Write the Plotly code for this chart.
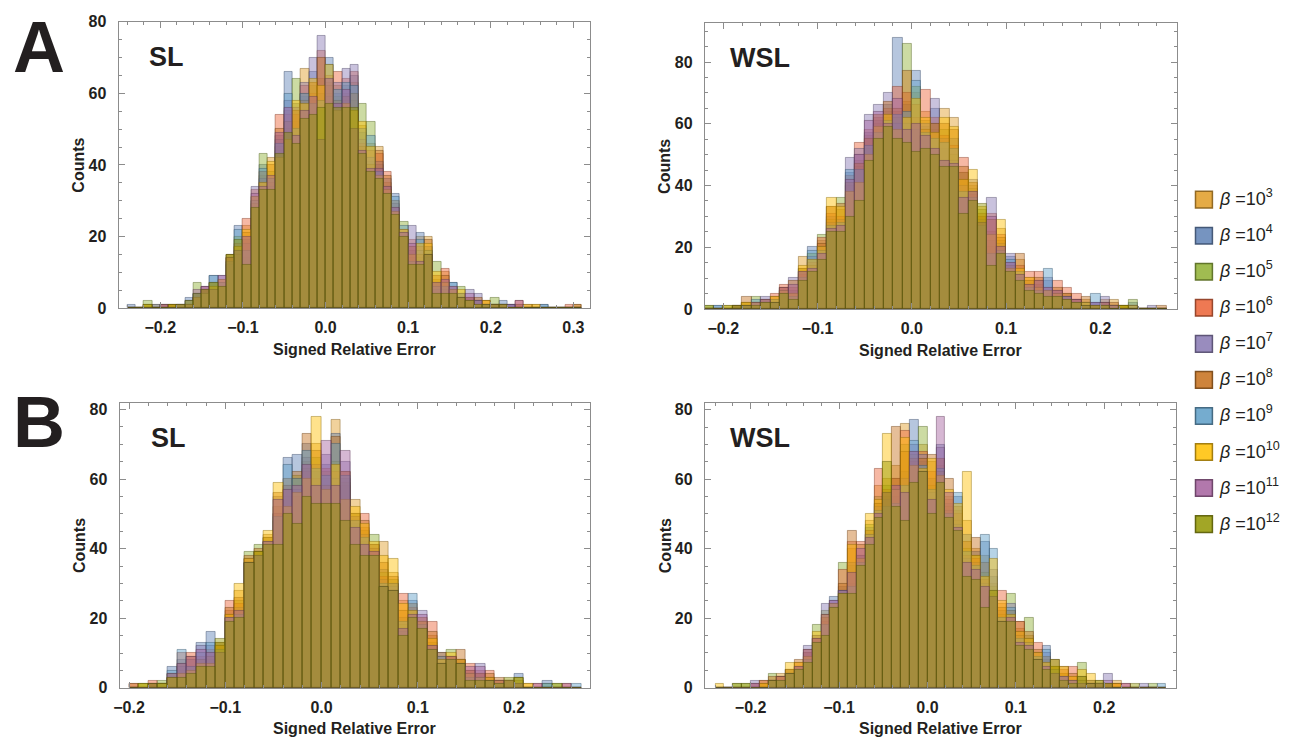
import plotly.graph_objects as go

# The page keeps the browser's default 8px body margin, so the figure is
# made 16px smaller than the 1308x752 window and every position is given
# in window pixels, shifted by that margin.
PAGE_W, PAGE_H, MARGIN = 1308, 752, 8
FW, FH = PAGE_W - 2 * MARGIN, PAGE_H - 2 * MARGIN
BIN_W = 0.01

# ---- bin grids (left edges of 0.01-wide bins) ----
asl_left = [round(-0.24 + BIN_W * i, 2) for i in range(55)]
awsl_left = [round(-0.22 + BIN_W * i, 2) for i in range(49)]
bsl_left = [round(-0.20 + BIN_W * i, 2) for i in range(47)]
bwsl_left = [round(-0.24 + BIN_W * i, 2) for i in range(51)]

beta_exps = [3, 4, 5, 6, 7, 8, 9, 10, 11, 12]
series_colors = ["#E19C24", "#5E81B5", "#8FB032", "#EB6235", "#8778B3",
                 "#C56E1A", "#5D9EC7", "#FFBF00", "#A5609D", "#929600"]

# ---- Panel A, SL ----
asl_b3 = [0,0,1,0,1,0,1,1,3,4, 6,7,14,17,23,30,37,42,45,55, 52,67,62,64,63,62,60,63,51,46, 45,35,28,21,15,20,20,8,10,5, 4,2,2,2,1,1,0,1,0,1, 0,0,0,0,1]
asl_b4 = [1,0,0,0,0,1,0,3,4,5, 9,7,13,23,19,31,40,36,48,66, 57,59,66,60,70,60,62,65,49,41, 40,33,32,20,14,21,17,7,6,7, 3,3,2,1,1,2,1,0,0,0, 1,0,0,0,0]
asl_b5 = [0,0,2,1,0,0,1,1,7,5, 7,6,15,20,14,28,43,38,44,50, 64,60,58,55,60,59,58,58,57,52, 36,34,26,24,16,14,16,13,7,4, 6,2,1,1,3,1,0,0,0,0, 0,0,0,0,0]
asl_b6 = [0,0,0,0,0,1,0,2,3,6, 5,8,14,18,25,33,35,35,54,54, 54,62,60,72,65,66,64,66,46,44, 43,38,27,22,19,17,15,6,11,6, 3,3,2,1,1,0,1,2,0,0, 0,0,0,1,0]
asl_b7 = [0,0,0,1,1,0,1,1,4,6, 6,9,12,16,18,34,36,34,47,58, 56,63,70,76,59,63,67,68,47,42, 41,36,29,21,23,16,14,5,5,4, 4,5,4,1,1,1,1,0,0,0, 0,0,0,0,0]
asl_b8 = [0,0,0,0,1,1,0,1,3,5, 7,6,15,15,21,29,38,40,50,52, 55,58,63,70,62,58,59,60,45,40, 44,37,30,20,17,15,19,9,9,5, 3,3,3,2,1,1,0,1,1,0, 0,0,0,0,1]
asl_b9 = [0,0,0,0,0,0,1,2,4,4, 9,7,13,22,16,30,39,36,46,60, 50,60,57,58,68,61,63,62,50,48, 38,32,31,23,13,19,16,6,6,7, 4,2,2,1,1,1,1,0,0,0, 1,0,0,0,0]
asl_b10 = [0,0,1,0,0,1,1,1,3,4, 6,8,14,17,22,31,35,41,42,47, 58,57,64,62,68,55,57,55,52,45, 37,33,27,22,15,18,18,10,7,5, 5,2,1,2,1,1,0,0,1,1, 0,0,0,0,0]
asl_b11 = [0,0,0,0,1,0,1,1,5,6, 5,9,14,16,20,32,34,37,49,56, 48,55,59,47,64,57,61,50,44,39, 39,34,28,21,18,13,15,7,8,6, 3,4,2,1,1,1,1,2,0,0, 0,0,0,0,0]
asl_b12 = [0,0,1,0,0,1,1,2,4,5, 7,6,15,19,12,28,33,33,43,49, 46,53,54,56,57,56,56,56,43,38, 36,32,26,20,12,12,15,4,4,4, 3,2,1,1,1,1,0,0,0,0, 0,0,0,0,0]

# ---- Panel A, WSL ----
awsl_b3 = [0,0,0,1,2,2,2,3,7,5, 17,16,22,33,32,40,48,56,60,64, 64,67,70,64,58,65,62,42,40,30, 25,26,14,16,10,8,6,5,4,3, 3,1,3,3,1,1,0,0,0]
awsl_b4 = [0,1,0,0,1,2,2,2,6,6, 12,20,18,30,28,44,50,57,61,66, 88,66,77,59,65,52,55,44,38,28, 22,20,17,11,9,7,9,6,3,2, 1,2,1,1,0,2,0,0,0]
awsl_b5 = [1,0,0,1,2,4,3,3,5,4, 13,18,24,29,36,37,46,52,58,62, 62,86,72,61,60,58,50,44,39,32, 20,22,13,11,8,9,5,4,5,2, 2,1,2,1,1,3,0,0,0]
awsl_b6 = [0,0,0,0,1,1,2,5,8,7, 11,15,23,31,30,43,54,58,62,65, 72,70,62,71,62,56,53,49,37,30, 31,24,15,14,12,12,7,9,7,5, 2,1,1,1,0,0,0,0,0]
awsl_b7 = [0,0,0,1,1,2,4,2,6,10, 12,17,20,28,29,49,52,63,66,70, 60,60,58,60,68,55,48,40,42,29, 36,21,18,10,8,6,10,5,3,3, 1,2,4,1,0,1,0,1,0]
awsl_b8 = [0,0,0,1,4,2,3,4,7,9, 13,14,21,33,34,41,47,55,63,67, 65,77,66,58,60,60,58,46,41,31, 29,23,14,18,9,10,6,7,5,3, 4,1,2,2,1,0,0,0,1]
awsl_b9 = [0,1,0,0,1,3,2,3,5,4, 10,19,19,27,28,45,45,53,57,61, 63,64,74,57,55,54,52,38,36,27, 18,19,16,12,7,6,13,4,4,2, 2,5,1,1,0,1,0,0,0]
awsl_b10 = [0,0,1,0,2,2,2,4,6,5, 14,16,20,36,33,38,41,50,59,63, 58,62,68,62,57,62,59,42,45,33, 24,29,13,13,10,7,6,5,3,2, 2,1,1,1,1,1,0,0,0]
awsl_b11 = [0,0,0,0,1,2,3,2,7,8, 12,13,18,26,27,42,50,61,64,60, 68,58,60,56,52,48,47,36,38,28, 30,20,15,11,8,9,7,6,4,3, 1,2,2,1,0,0,0,0,0]
awsl_b12 = [1,0,1,1,1,1,2,2,5,3, 9,12,16,25,25,30,35,48,55,59, 55,54,51,52,50,46,46,31,35,34, 14,18,12,9,6,5,4,4,3,2, 1,1,1,0,1,0,0,0,0]

# ---- Panel B, SL ----
bsl_b3 = [0,0,1,1,3,5,6,8,10,12, 22,28,37,39,44,52,55,60,65,70, 60,77,58,54,46,40,42,33,25,22, 18,15,8,9,8,5,4,3,2,2, 1,1,0,0,0,0,0]
bsl_b4 = [0,0,0,1,6,8,5,13,16,11, 20,22,36,38,42,50,66,67,70,62, 64,73,60,47,42,41,34,30,20,25, 19,12,10,9,8,4,3,2,1,2, 4,0,0,2,0,0,0]
bsl_b5 = [0,1,1,2,4,4,4,7,8,13, 21,25,39,41,43,48,57,61,63,66, 62,65,59,50,45,44,33,31,18,21, 18,13,8,11,7,3,3,2,2,2, 2,0,0,1,1,0,0]
bsl_b6 = [1,0,2,0,3,10,10,9,11,12, 25,24,36,38,42,50,58,55,62,60, 63,62,62,48,50,39,32,30,27,23, 19,19,9,9,8,7,5,5,2,2, 1,0,1,0,0,1,0]
bsl_b7 = [0,0,0,1,3,6,8,12,12,11, 19,23,37,39,41,55,58,57,66,64, 67,60,65,49,44,40,31,29,16,20, 22,12,8,8,8,4,7,3,1,2, 1,0,0,0,0,0,0]
bsl_b8 = [1,0,1,1,4,7,9,8,9,13, 23,26,38,40,43,56,60,62,73,68, 58,72,62,50,48,41,36,32,22,24, 20,16,10,9,11,5,4,4,3,2, 2,0,0,0,0,0,0]
bsl_b9 = [0,0,0,1,5,11,6,10,13,11, 20,21,36,38,42,49,64,60,68,63, 61,70,61,48,43,38,30,30,19,27, 18,11,9,8,7,3,3,2,1,2, 3,0,0,1,0,0,1]
bsl_b10 = [0,1,0,1,3,4,5,7,7,12, 21,30,37,39,45,59,52,56,60,78, 57,64,54,52,47,42,38,37,24,22, 19,14,8,10,8,4,3,3,2,2, 3,1,0,0,0,0,0]
bsl_b11 = [0,0,1,0,4,7,9,11,10,10, 20,22,36,38,42,54,57,58,64,58, 71,58,68,46,41,39,29,28,17,21, 21,12,7,9,7,6,6,2,2,2, 1,0,1,0,0,1,0]
bsl_b12 = [0,1,1,1,3,3,4,6,6,14, 19,20,36,39,41,41,50,47,55,53, 53,53,48,41,38,38,29,28,15,20, 17,11,7,8,7,2,2,2,1,3, 3,0,0,0,1,0,0]

# ---- Panel B, WSL ----
bwsl_b3 = [0,0,0,0,1,1,2,4,5,6, 9,15,20,24,28,40,38,48,58,60, 64,76,68,70,65,64,55,51,48,40, 38,30,24,22,17,15,10,8,6,4, 3,3,2,2,1,2,0,0,0,0, 0]
bwsl_b4 = [0,0,0,0,0,0,1,2,4,6, 10,14,21,26,29,30,36,46,53,55, 55,62,77,65,60,70,53,55,44,39, 42,32,22,21,16,14,9,12,5,3, 2,2,1,1,0,0,0,0,0,0, 0]
bwsl_b5 = [0,0,1,1,0,1,4,3,5,5, 8,18,22,24,36,35,37,47,55,58, 60,70,67,75,58,66,52,48,40,38, 33,29,21,27,15,20,9,7,6,4, 2,7,2,1,1,0,0,0,0,1, 0]
bwsl_b6 = [0,0,0,0,1,2,2,3,4,7, 10,14,19,24,34,42,42,44,63,57, 60,74,65,68,62,66,54,50,38,37, 31,27,28,20,19,13,13,7,5,5, 6,2,1,1,1,1,1,0,0,0, 0]
bwsl_b7 = [0,0,0,0,2,0,2,2,5,6, 12,15,24,25,28,36,38,44,52,54, 57,60,70,67,56,69,51,47,37,36, 30,34,20,24,15,12,10,10,4,3, 2,3,2,1,4,0,0,0,1,0, 0]
bwsl_b8 = [0,0,0,0,0,2,3,3,5,8, 11,14,20,23,30,45,41,45,53,56, 75,68,66,66,67,62,60,52,42,43, 36,28,23,22,19,16,11,9,8,6, 4,2,1,1,1,1,0,0,0,0, 0]
bwsl_b9 = [0,0,0,0,0,0,2,2,4,5, 8,13,18,24,28,29,36,44,51,52, 53,58,71,64,57,63,50,56,39,35, 44,40,20,23,14,13,9,11,5,3, 2,2,1,1,0,0,0,0,0,0, 1]
bwsl_b10 = [1,0,0,0,0,1,2,3,7,7, 9,16,21,24,27,41,37,50,54,73, 57,72,64,63,66,61,57,53,62,38, 32,37,25,21,16,14,10,7,6,6, 3,5,4,1,1,1,0,0,0,0, 0]
bwsl_b11 = [0,0,0,0,1,0,2,3,4,6, 11,14,21,25,28,33,40,43,50,56, 58,56,68,62,54,78,56,46,36,34, 29,26,19,20,13,12,8,6,4,3, 2,1,1,1,2,0,1,0,0,0, 0]
bwsl_b12 = [0,0,1,1,0,0,2,2,4,5, 7,13,15,23,27,27,35,41,49,65, 52,48,59,62,50,59,49,45,32,31, 23,28,19,19,12,11,8,5,8,2, 1,3,1,2,1,0,0,1,0,0, 0]

panels = [
    dict(tag="SL", tagdx=29, left=asl_left,
         data=[asl_b3, asl_b4, asl_b5, asl_b6, asl_b7, asl_b8, asl_b9, asl_b10, asl_b11, asl_b12],
         box=(113, 587, 14, 307), xr=[-0.2506, 0.3205], yr=[0, 80]),
    dict(tag="WSL", tagdx=23, left=awsl_left,
         data=[awsl_b3, awsl_b4, awsl_b5, awsl_b6, awsl_b7, awsl_b8, awsl_b9, awsl_b10, awsl_b11, awsl_b12],
         box=(702, 1176, 15, 308), xr=[-0.2196, 0.2809], yr=[0, 92.7]),
    dict(tag="SL", tagdx=30, left=bsl_left,
         data=[bsl_b3, bsl_b4, bsl_b5, bsl_b6, bsl_b7, bsl_b8, bsl_b9, bsl_b10, bsl_b11, bsl_b12],
         box=(114, 587, 404, 695.7), xr=[-0.2099, 0.2792], yr=[0, 81.9]),
    dict(tag="WSL", tagdx=23, left=bwsl_left,
         data=[bwsl_b3, bwsl_b4, bwsl_b5, bwsl_b6, bwsl_b7, bwsl_b8, bwsl_b9, bwsl_b10, bwsl_b11, bwsl_b12],
         box=(702, 1175, 404, 695.5), xr=[-0.2519, 0.2807], yr=[0, 82]),
]


def px(x):
    """window pixel column -> paper fraction"""
    return (x - MARGIN) / FW


def py(y):
    """window pixel row (from top) -> paper fraction"""
    return 1 - (y - MARGIN) / FH


def rgba(hexc, a, k=1.0):
    r, g, b = int(hexc[1:3], 16), int(hexc[3:5], 16), int(hexc[5:7], 16)
    return "rgba(%d,%d,%d,%.3f)" % (int(r * k), int(g * k), int(b * k), a)


FONT = "Liberation Sans, Arial, Helvetica, sans-serif"
TXT = "#231F20"
AXC = "#8C8C8C"
tickfont = dict(family=FONT, size=16, color=TXT, weight="bold")

fig = go.Figure()
layout = dict(width=FW, height=FH, margin=dict(l=0, r=0, t=0, b=0),
              paper_bgcolor="white", plot_bgcolor="white",
              barmode="overlay", bargap=0, showlegend=False)

annotations = []
for k, p in enumerate(panels):
    s = "" if k == 0 else str(k + 1)
    centers = [round(l + BIN_W / 2, 3) for l in p["left"]]
    for j, vals in enumerate(p["data"]):
        assert len(vals) == len(centers), (k, j, len(vals), len(centers))
        fig.add_trace(go.Bar(
            x=centers, y=vals, width=BIN_W,
            marker=dict(color=rgba(series_colors[j], 0.45),
                        line=dict(color=rgba(series_colors[j], 0.55, 0.55), width=0.8)),
            xaxis="x" + s, yaxis="y" + s, hoverinfo="skip", showlegend=False))
    x0, x1, y0, y1 = p["box"]
    layout["xaxis" + s] = dict(
        domain=[px(x0), px(x1)], anchor="y" + s, range=p["xr"],
        showgrid=False, zeroline=False, showline=True, linecolor=AXC, linewidth=1,
        mirror="ticks", ticks="inside", ticklen=6, tickwidth=1, tickcolor=AXC,
        tick0=0, dtick=0.1, tickformat=".1f", tickfont=tickfont, ticklabelstandoff=5,
        ticklabeloverflow="allow",
        minor=dict(ticks="inside", ticklen=3, tickwidth=1, tickcolor=AXC, tick0=0, dtick=0.02, showgrid=False))
    layout["yaxis" + s] = dict(
        domain=[py(y1), py(y0)], anchor="x" + s, range=p["yr"],
        showgrid=False, zeroline=False, showline=True, linecolor=AXC, linewidth=1,
        mirror="ticks", ticks="inside", ticklen=6, tickwidth=1, tickcolor=AXC,
        tick0=0, dtick=20, tickfont=tickfont, ticklabelstandoff=8,
        ticklabeloverflow="allow",
        minor=dict(ticks="inside", ticklen=3, tickwidth=1, tickcolor=AXC, tick0=0, dtick=5, showgrid=False))
    # axis titles
    annotations.append(dict(text="<b>Counts</b>", x=px(x0 - 40), y=py((y0 + y1) / 2),
                            xref="paper", yref="paper", xanchor="center", yanchor="middle",
                            textangle=-90, showarrow=False,
                            font=dict(family=FONT, size=16, color=TXT)))
    annotations.append(dict(text="<b>Signed Relative Error</b>", x=px((x0 + x1) / 2), y=py(y1 + 42),
                            xref="paper", yref="paper", xanchor="center", yanchor="middle",
                            showarrow=False, font=dict(family=FONT, size=16, color=TXT)))
    # panel tag
    annotations.append(dict(text="<b>%s</b>" % p["tag"], x=px(x0 + p["tagdx"]), y=py(y0 + 36),
                            xref="paper", yref="paper", xanchor="left", yanchor="middle",
                            showarrow=False, font=dict(family=FONT, size=27, color=TXT)))

# row letters
for letter, cy in (("A", 40), ("B", 424)):
    annotations.append(dict(text="<b>%s</b>" % letter, x=px(33), y=py(cy),
                            xref="paper", yref="paper", xanchor="center", yanchor="middle",
                            showarrow=False, font=dict(family=FONT, size=72, color=TXT)))

# legend (manual)
shapes = []
for j, e in enumerate(beta_exps):
    cy = 196 + 36.9 * j
    shapes.append(dict(type="rect", xref="paper", yref="paper",
                       x0=px(1195), x1=px(1212), y0=py(cy + 8.5), y1=py(cy - 8.5),
                       fillcolor=rgba(series_colors[j], 0.85),
                       line=dict(color=rgba(series_colors[j], 0.9, 0.6), width=1.5)))
    annotations.append(dict(text="<i>β</i> =10<sup>%d</sup>" % e, x=px(1217), y=py(cy - 2),
                            xref="paper", yref="paper", xanchor="left", yanchor="middle",
                            showarrow=False, font=dict(family=FONT, size=18, color=TXT)))

layout["annotations"] = annotations
layout["shapes"] = shapes
fig.update_layout(**layout)
fig.write_html("out.html", config={"displayModeBar": False})
